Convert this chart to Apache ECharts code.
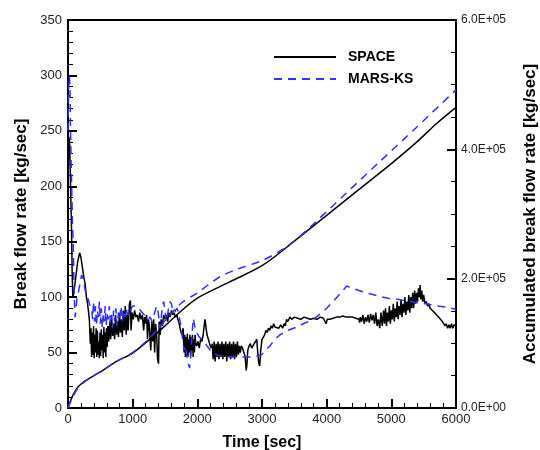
<!DOCTYPE html>
<html>
<head>
<meta charset="utf-8">
<script src="https://cdn.jsdelivr.net/npm/echarts@6/dist/echarts.min.js"></script>
<style>
  html, body { margin: 0; padding: 0; background: #fff; }
  #chart { width: 540px; height: 450px; }
</style>
</head>
<body>
<div id="chart"></div>
<script>
// break flow rate [kg/sec], SPACE  ([time, value])
var spaceFlow = [
  [0,200],[10,245],[25,240],[40,200],[55,160],[65,120],[75,100],[95,106],[120,118],[150,132],[180,140],
  [200,136],[225,126],[245,118],[265,112],[285,100],[300,95],[315,88],[330,80],
  [345,58],[355,72],[365,46],[375,68],[385,48],[395,74],[405,45],[415,66],[425,50],[435,72],
  [445,46],[455,70],[465,48],[475,60],[485,45],[495,68],[505,47],[515,71],[525,52],[535,66],
  [545,45],[555,73],[565,50],[575,68],[585,46],[595,72],[605,55],[615,74],
  [630,60],[645,78],[660,62],[675,82],[690,65],[705,76],[720,62],[735,84],[750,66],[765,78],
  [780,64],[795,86],[810,68],[825,80],[840,64],[855,88],[870,70],[885,92],[900,66],[915,84],
  [930,70],[950,94],[965,97],[975,70],[990,86],
  [1010,80],[1030,88],[1050,82],[1070,84],[1090,78],[1110,86],[1130,80],[1150,84],[1170,70],
  [1185,82],[1200,76],[1215,84],[1230,62],[1245,80],[1260,72],
  [1280,52],[1295,78],[1310,60],[1325,80],[1340,50],[1355,76],[1370,68],[1385,44],[1400,40],
  [1410,78],[1425,66],[1440,80],[1460,74],[1480,84],[1500,80],[1520,84],[1540,78],[1560,86],
  [1580,82],[1600,88],[1620,84],[1640,86],[1660,82],[1680,84],[1700,80],[1720,76],[1740,70],
  [1760,66],[1780,72],
  [1795,50],[1805,66],[1815,46],[1825,64],[1835,48],[1845,67],[1855,46],[1865,62],[1875,50],
  [1885,66],[1895,47],[1905,64],[1915,52],[1925,66],[1935,46],[1945,62],[1955,50],[1965,66],
  [1975,58],[1990,56],[2010,60],[2030,54],[2050,62],[2070,60],[2090,66],[2105,74],[2119,80],
  [2135,72],[2150,66],[2170,62],[2190,58],[2210,54],
  [2230,58],[2245,44],[2260,60],[2275,42],[2290,58],[2305,46],[2320,60],[2335,44],[2350,58],
  [2365,46],[2380,60],[2395,44],[2410,58],[2425,46],[2440,60],[2455,42],[2470,58],[2485,46],
  [2500,60],[2515,44],[2530,58],[2545,46],[2560,60],[2575,44],[2590,58],[2605,46],[2620,60],
  [2635,48],[2650,56],[2665,50],[2680,56],[2700,54],[2720,50],[2740,46],[2755,34],[2765,38],
  [2780,52],[2800,56],[2820,58],[2840,54],[2860,56],[2880,58],[2900,60],[2918,62],[2935,50],
  [2950,40],[2965,38],[2980,52],[3000,62],[3020,64],[3040,66],[3060,70],[3080,68],[3100,72],
  [3120,70],[3140,74],[3160,72],[3180,76],[3200,73],[3230,74],[3260,72],[3290,75],[3320,72],
  [3340,76],[3360,74],[3380,80],[3400,78],[3430,82],[3460,80],[3500,82],[3550,81],[3600,80],
  [3650,82],[3700,81],[3750,80],[3800,81],[3850,80],[3900,82],[3950,81],[3980,80],[3990,76],
  [4000,76],[4010,80],[4050,80],[4100,81],[4150,82],[4200,82],[4250,83],[4300,82],[4350,82],
  [4400,82],[4450,81],[4500,80],[4510,77],[4520,82],
  [4540,78],[4560,84],[4580,76],[4600,82],[4620,78],[4640,84],[4660,77],[4680,85],[4700,79],
  [4720,84],[4740,76],[4760,86],[4780,74],[4800,80],[4820,72],[4840,86],
  [4860,74],[4880,88],[4895,76],[4910,90],[4925,74],[4940,86],[4955,78],[4970,92],[4985,76],
  [5000,88],[5015,80],[5030,94],[5045,78],[5060,90],[5075,82],[5090,96],[5105,80],[5120,92],
  [5135,84],[5150,98],[5165,82],[5180,94],[5195,86],[5210,100],[5225,84],[5240,96],[5255,88],
  [5270,102],[5285,86],[5300,100],[5315,90],[5330,104],[5345,90],[5360,106],[5375,94],
  [5390,104],[5405,96],[5420,108],[5435,100],[5445,111],[5455,98],[5470,106],[5485,96],
  [5500,102],[5520,94],[5540,96],[5560,92],[5580,94],[5600,90],[5620,90],[5650,87],[5680,86],
  [5700,84],[5730,82],[5760,80],[5790,78],[5810,77],[5830,74],[5850,76],[5870,72],[5890,75],
  [5910,72],[5930,76],[5950,72],[5970,75],[6000,74]
];

// break flow rate [kg/sec], MARS-KS
var marsFlow = [
  [0,250],[10,285],[20,300],[30,292],[42,240],[55,205],[68,170],[80,150],[90,120],[100,95],
  [110,82],[125,90],[140,100],[160,104],[185,112],[210,120],[237,116],[260,108],[290,100],
  [315,98],[340,92],[366,90],
  [380,80],[395,96],[410,78],[425,92],[440,74],[455,88],[470,82],[485,96],[500,76],[515,90],
  [530,72],[545,86],[560,78],[575,92],[590,74],[605,86],[620,80],[640,92],[655,76],[670,84],
  [690,72],[705,88],[720,78],[740,90],[760,74],[780,86],[800,80],[820,92],[840,78],[860,88],
  [880,82],[900,90],[920,84],[940,88],[960,86],[980,90],
  [1000,92],[1030,93],[1060,92],[1090,90],[1120,88],[1150,86],[1180,84],[1210,82],[1240,80],
  [1270,82],[1300,78],[1330,84],[1360,90],[1380,92],[1400,84],[1420,72],[1440,80],[1460,92],
  [1480,96],[1500,88],[1520,78],[1540,84],[1560,92],[1580,96],[1600,94],[1620,88],[1650,86],
  [1680,90],[1700,88],[1720,82],[1740,76],[1760,68],[1780,58],[1800,52],[1820,56],[1840,46],
  [1860,40],[1880,36],[1900,48],[1920,68],[1938,81],[1960,74],[1990,68],[2030,64],[2093,61],
  [2150,56],[2200,52],[2248,49],[2300,48],[2350,47],[2454,46],[2550,46],[2650,46],[2763,46],
  [2850,46],[2950,47],[2995,48],[3050,52],[3124,56],[3200,62],[3278,66],[3400,70],[3536,73],
  [3639,76],[3794,80],[3948,87],[4000,90],[4100,96],[4206,103],[4310,110],[4400,108],
  [4500,106],[4670,103],[4800,101],[4950,99],[5100,98],[5185,97],[5300,96],[5400,95],
  [5547,94],[5700,92],[5850,91],[6000,89]
];

// accumulated break flow [kg]
var spaceAcc = [
  [0,0],[20,6e3],[50,14e3],[100,24e3],[150,32e3],[250,41e3],[350,47e3],[550,59e3],[750,72e3],
  [1000,85e3],[1250,105e3],[1500,127e3],[1750,150e3],[2000,170e3],[2500,195e3],[3000,220e3],
  [3500,258e3],[4000,298e3],[4500,338e3],[5000,378e3],[5400,412e3],[5700,440e3],[6000,465e3]
];
var marsAcc = [
  [0,0],[20,5e3],[50,12e3],[100,22e3],[150,30e3],[250,40e3],[350,47e3],[550,59e3],[750,72e3],
  [1000,86e3],[1250,107e3],[1500,135e3],[1750,162e3],[2000,178e3],[2350,203e3],[2600,214e3],
  [3000,228e3],[3250,241e3],[3500,258e3],[3800,285e3],[4300,332e3],[4800,379e3],
  [5400,435e3],[6000,492e3]
];

var seriesNames = ["SPACE", "MARS-KS"];
var BLUE = "#2f2fff";
var FONT = "'Liberation Sans', Arial, sans-serif";

function sci(v) {
  // 6.0E+05 style
  var s = v.toExponential(1).toUpperCase();
  var parts = s.split("E");
  var sign = parts[1].charAt(0);
  var exp = parts[1].slice(1);
  if (exp.length < 2) exp = "0" + exp;
  return parts[0] + "E" + sign + exp;
}

var chart = echarts.init(document.getElementById("chart"));

var option = {
  animation: false,
  backgroundColor: "#fff",
  textStyle: { fontFamily: FONT, color: "#000" },
  grid: {
    left: 68, right: 84, top: 20, bottom: 42,
    outerBoundsMode: "none",
    containLabel: false,
    show: true, borderColor: "#000", borderWidth: 2
  },
  legend: {
    data: seriesNames,
    orient: "vertical",
    left: 273, top: 50, padding: 0,
    itemWidth: 62, itemHeight: 14, itemGap: 8,
    itemStyle: { opacity: 0 },
    textStyle: { fontSize: 14, fontWeight: "bold", color: "#000", fontFamily: FONT, padding: [0, 0, 0, 7] }
  },
  xAxis: {
    type: "value",
    min: 0, max: 6000, interval: 1000,
    name: "Time [sec]",
    nameLocation: "middle",
    nameGap: 27,
    nameTextStyle: { fontSize: 16, fontWeight: "bold", color: "#000" },
    axisLine: { lineStyle: { color: "#000", width: 2 } },
    axisTick: { inside: true, length: 9, lineStyle: { color: "#000", width: 2 } },
    minorTick: { show: true, splitNumber: 5, length: 5, lineStyle: { color: "#000", width: 1 } },
    axisLabel: { fontSize: 13, color: "#222", margin: 5, formatter: function (v) { return String(v); } },
    splitLine: { show: false }
  },
  yAxis: [
    {
      type: "value",
      min: 0, max: 350, interval: 50,
      name: "Break flow rate [kg/sec]",
      nameLocation: "middle",
      nameGap: 38,
      nameRotate: 90,
      nameTextStyle: { fontSize: 17, fontWeight: "bold", color: "#000" },
      axisLine: { lineStyle: { color: "#000", width: 2 } },
      axisTick: { inside: true, length: 9, lineStyle: { color: "#000", width: 2 } },
      minorTick: { show: true, splitNumber: 5, length: 5, lineStyle: { color: "#000", width: 1 } },
      axisLabel: { fontSize: 13, color: "#222", margin: 6, formatter: function (v) { return String(v); } },
      splitLine: { show: false }
    },
    {
      type: "value",
      position: "right",
      min: 0, max: 6e5, interval: 2e5,
      name: "Accumulated break flow rate [kg/sec]",
      nameLocation: "middle",
      nameGap: 66,
      nameRotate: 90,
      nameTextStyle: { fontSize: 17, fontWeight: "bold", color: "#000" },
      axisLine: { show: true, lineStyle: { color: "#000", width: 2 } },
      axisTick: { inside: true, length: 9, lineStyle: { color: "#000", width: 2 } },
      minorTick: { show: true, splitNumber: 4, length: 5, lineStyle: { color: "#000", width: 1 } },
      axisLabel: { fontSize: 12, color: "#222", margin: 5, formatter: sci },
      splitLine: { show: false }
    }
  ],
  series: [
    {
      name: "SPACE", type: "line", yAxisIndex: 0, data: spaceFlow,
      symbol: "none", lineStyle: { color: "#000", width: 1.5 }, itemStyle: { color: "#000" }
    },
    {
      name: "MARS-KS", type: "line", yAxisIndex: 0, data: marsFlow,
      symbol: "none", lineStyle: { color: BLUE, width: 1.5, type: [8, 6] }, itemStyle: { color: BLUE }
    },
    {
      name: "SPACE", type: "line", yAxisIndex: 1, data: spaceAcc, smooth: 0.3,
      symbol: "none", lineStyle: { color: "#000", width: 1.5 }, itemStyle: { color: "#000" }
    },
    {
      name: "MARS-KS", type: "line", yAxisIndex: 1, data: marsAcc, smooth: 0.3,
      symbol: "none", lineStyle: { color: BLUE, width: 1.5, type: [8, 6] }, itemStyle: { color: BLUE }
    }
  ]
};

chart.setOption(option);
</script>
</body>
</html>
